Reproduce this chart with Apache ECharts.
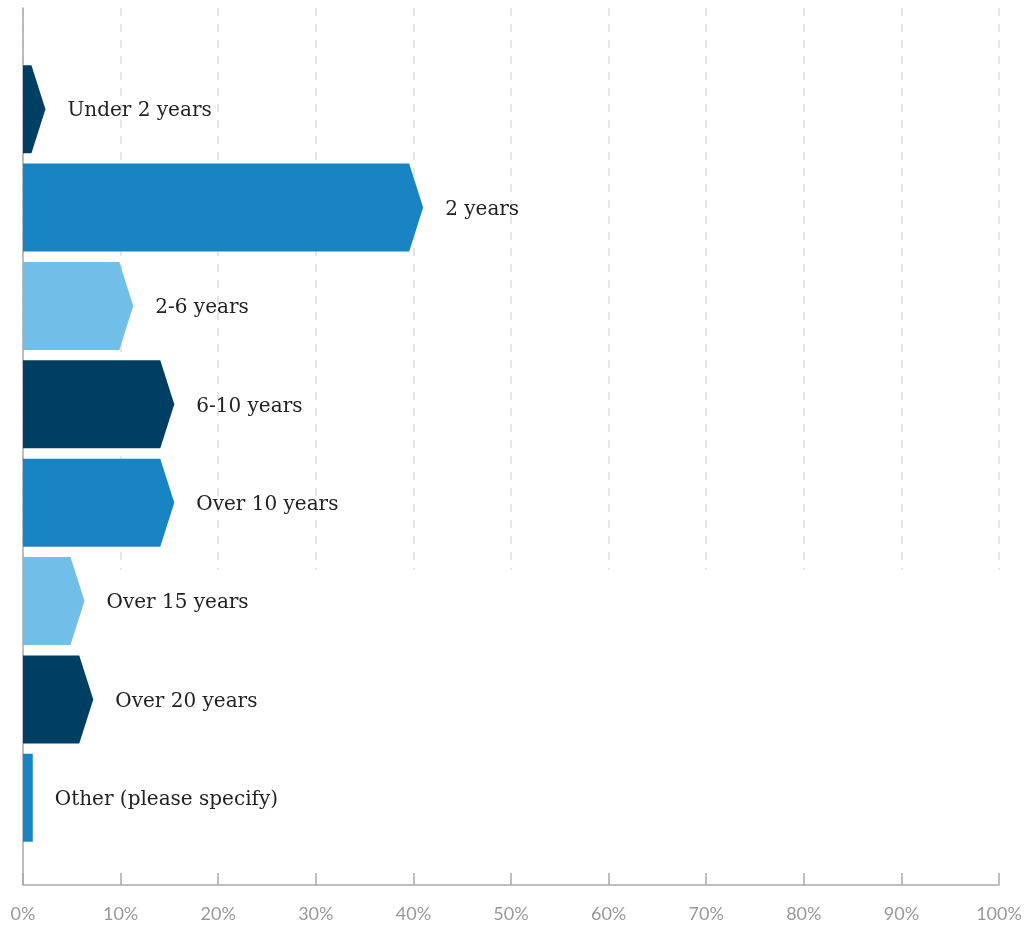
<!DOCTYPE html>
<html>
<head>
<meta charset="utf-8">
<script src="https://cdn.jsdelivr.net/npm/echarts@6/dist/echarts.min.js"></script>
<style>
html, body { margin: 0; padding: 0; background: #fff; }
#chart { width: 1030px; height: 928px; }
</style>
</head>
<body>
<div id="chart"></div>
<script>
var categories = ['Under 2 years', '2 years', '2-6 years', '6-10 years', 'Over 10 years', 'Over 15 years', 'Over 20 years', 'Other (please specify)'];
var values = [2.3, 41.0, 11.3, 15.5, 15.5, 6.3, 7.2, 1.0];
var colors = ['#003f64', '#1884c4', '#71bfe9', '#003f64', '#1884c4', '#71bfe9', '#003f64', '#1884c4'];
var tickLabels = ['0%', '10%', '20%', '30%', '40%', '50%', '60%', '70%', '80%', '90%', '100%'];

var myChart = echarts.init(document.getElementById('chart'));

var data = values.map(function (v, i) {
    return [v, i];
});

function renderArrow(params, api) {
    var idx = api.value(1);
    var tip = api.coord([api.value(0), idx]);
    var start = api.coord([0, idx]);
    var h = api.size([0, 1])[1] * 0.894;
    var top = tip[1] - h / 2;
    var bottom = tip[1] + h / 2;
    var arrow = 14;
    var shape;
    if (tip[0] - start[0] > arrow) {
        shape = {
            type: 'polygon',
            shape: {
                points: [
                    [start[0], top],
                    [tip[0] - arrow, top],
                    [tip[0], tip[1]],
                    [tip[0] - arrow, bottom],
                    [start[0], bottom]
                ]
            },
            style: { fill: colors[idx] }
        };
    } else {
        shape = {
            type: 'rect',
            shape: { x: start[0], y: top, width: tip[0] - start[0], height: h },
            style: { fill: colors[idx] }
        };
    }
    return {
        type: 'group',
        children: [
            shape,
            {
                type: 'text',
                x: tip[0] + 22,
                y: tip[1] + 2,
                style: {
                    text: categories[idx],
                    fill: '#222',
                    font: '20px "DejaVu Serif"',
                    verticalAlign: 'middle',
                    align: 'left'
                }
            }
        ]
    };
}

var option = {
    animation: false,
    grid: [
        // axes frame
        { left: 23, right: 31, top: 8, bottom: 43 },
        // dashed lines, upper part only
        { left: 23, right: 31, top: 8, height: 562 },
        // bars
        { left: 23, right: 31, top: 60, height: 787 }
    ],
    xAxis: [
        {
            gridIndex: 0,
            type: 'value',
            min: 0,
            max: 100,
            interval: 10,
            axisLine: { show: true, lineStyle: { color: '#aaa', width: 1.5 } },
            axisTick: { show: true, inside: true, length: 12, lineStyle: { color: '#aaa', width: 1.5 } },
            axisLabel: {
                color: '#999',
                fontFamily: 'Lato',
                fontSize: 18,
                margin: 20,
                formatter: function (v) { return tickLabels[Math.round(v / 10)]; }
            },
            splitLine: { show: false }
        },
        {
            gridIndex: 1,
            type: 'value',
            min: 0,
            max: 100,
            interval: 10,
            axisLine: { show: false },
            axisTick: { show: false },
            axisLabel: { show: false },
            splitLine: { show: true, lineStyle: { color: '#ddd', type: [8, 8], width: 1.5 } }
        },
        {
            gridIndex: 2,
            type: 'value',
            min: 0,
            max: 100,
            show: false
        }
    ],
    yAxis: [
        {
            gridIndex: 0,
            type: 'value',
            min: 0,
            max: 1,
            axisLine: { show: true, lineStyle: { color: '#aaa', width: 1.5 } },
            axisTick: { show: false },
            axisLabel: { show: false },
            splitLine: { show: false }
        },
        {
            gridIndex: 1,
            type: 'value',
            show: false
        },
        {
            gridIndex: 2,
            type: 'category',
            inverse: true,
            data: categories,
            show: false
        }
    ],
    series: [{
        type: 'custom',
        xAxisIndex: 2,
        yAxisIndex: 2,
        renderItem: renderArrow,
        encode: { x: 0, y: 1 },
        data: data
    }]
};
myChart.setOption(option);
</script>
</body>
</html>
